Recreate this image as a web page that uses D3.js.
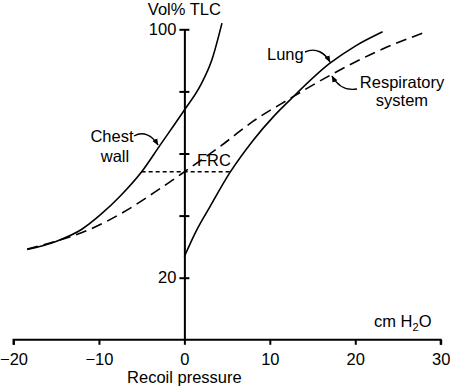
<!DOCTYPE html>
<html>
<head>
<meta charset="utf-8">
<script src="https://cdn.jsdelivr.net/npm/d3@7"></script>
<style>
  body { margin: 0; background: #fff; }
  text { font-family: "Liberation Sans", Arial, sans-serif; font-size: 16.5px; fill: #000; }
</style>
</head>
<body>
<div id="chart"></div>
<script>
// recoil pressure (cm H2O) vs volume (% TLC)
var chestWall = [[-18.4,29.1],[-15.1,31.6],[-12,35.6],[-9.85,40.2],[-7.5,46.3],[-5,54.1],[-2.84,62.7],[0,74],[1.9,82],[3.2,90],[4.4,102]]
var lung = [[0,26.8],[1.45,35.4],[3,42.9],[5.34,53.9],[8.06,64.3],[10.4,71.8],[12.35,77.2],[17,89],[20,94.6],[23.2,99.2]]
var respSystem = [[-18.4,29.2],[-15.1,31.7],[-11.2,35.4],[-7.2,41],[-3.6,47.3],[0,54.1],[4.2,62.3],[8.06,70.4],[12.3,77.6],[17,85.1],[22.5,92.8],[28.3,99.2]]
var frc = [[-5,54.1],[5.34,54.1]]

var xTicks = [-20,-10,0,10,20,30]
var yTicks = [20,40,60,80,100]
var yLabels = [20,100]

var width = 450, height = 387

var svg = d3.select('#chart').append('svg').attr('width', width).attr('height', height)

var x = d3.scaleLinear().domain([-20,30]).range([13.5,440.7])
var y = d3.scaleLinear().domain([0,100]).range([339.8,29.3])

var defs = svg.append('defs')
defs.append('marker').attr('id','head').attr('viewBox','0 0 10 10')
  .attr('refX',9).attr('refY',5).attr('markerWidth',7).attr('markerHeight',7)
  .attr('markerUnits','userSpaceOnUse').attr('orient','auto')
  .append('path').attr('d','M0,1 L10,5 L0,9 Z').attr('fill','#000')

// x axis
var xAxis = svg.append('g').attr('transform','translate(0,' + y(0) + ')')
  .call(d3.axisBottom(x).tickValues(xTicks).tickSize(5).tickPadding(8).tickFormat(d3.format('d')))
xAxis.select('.domain').attr('d','M' + x(-20) + ',5V0H' + x(30) + 'V5').attr('stroke-width',2)
xAxis.selectAll('line').attr('stroke-width',2)
xAxis.selectAll('text').attr('font-size',16.5).attr('font-family','Liberation Sans, Arial, sans-serif')

// y axis
var yAxis = svg.append('g').attr('transform','translate(' + x(0) + ',0)')
  .call(d3.axisLeft(y).tickValues(yTicks).tickSize(5).tickSizeOuter(0)
    .tickFormat(function(d){ return yLabels.indexOf(d) >= 0 ? d : '' }))
yAxis.select('.domain').attr('stroke-width',2)
yAxis.selectAll('line').attr('x1',5).attr('x2',-5).attr('stroke-width',2)
yAxis.selectAll('text').attr('x',-8).attr('font-size',16.5).attr('font-family','Liberation Sans, Arial, sans-serif')

var line = d3.line().x(d => x(d[0])).y(d => y(d[1])).curve(d3.curveMonotoneX)

svg.append('path').datum(chestWall).attr('d',line).attr('fill','none').attr('stroke','#000').attr('stroke-width',1.6)
svg.append('path').datum(lung).attr('d',line).attr('fill','none').attr('stroke','#000').attr('stroke-width',1.6)
svg.append('path').datum(respSystem).attr('d',line).attr('fill','none').attr('stroke','#000').attr('stroke-width',1.6)
  .attr('stroke-dasharray','11,6')
svg.append('path').datum(frc).attr('d',d3.line().x(d => x(d[0])).y(d => y(d[1])))
  .attr('fill','none').attr('stroke','#000').attr('stroke-width',1.6).attr('stroke-dasharray','4,3')

// labels
svg.append('text').attr('x',x(0)).attr('y',15).attr('text-anchor','middle').text('Vol% TLC')
svg.append('text').attr('x',x(0)).attr('y',383).attr('text-anchor','middle').text('Recoil pressure')
var cm = svg.append('text').attr('x',374).attr('y',327)
cm.append('tspan').text('cm H')
cm.append('tspan').attr('font-size',11).attr('dy',4).text('2')
cm.append('tspan').attr('dy',-4).text('O')

svg.append('text').attr('x',112).attr('y',142).attr('text-anchor','middle').text('Chest')
svg.append('text').attr('x',115).attr('y',162).attr('text-anchor','middle').text('wall')
svg.append('text').attr('x',197).attr('y',166).text('FRC')
svg.append('text').attr('x',267).attr('y',60).text('Lung')
svg.append('text').attr('x',402).attr('y',88).attr('text-anchor','middle').text('Respiratory')
svg.append('text').attr('x',402).attr('y',106).attr('text-anchor','middle').text('system')

// pointer arrows
var arrows = ['M134,136 C143,131 152,135 158,145', 'M305,52 C316,47 325,53 330,62', 'M357,89 C345,91 337,85 332,76']
svg.selectAll('.arrow').data(arrows).join('path').attr('class','arrow').attr('d',d => d)
  .attr('fill','none').attr('stroke','#000').attr('stroke-width',1.4).attr('marker-end','url(#head)')
</script>
</body>
</html>
